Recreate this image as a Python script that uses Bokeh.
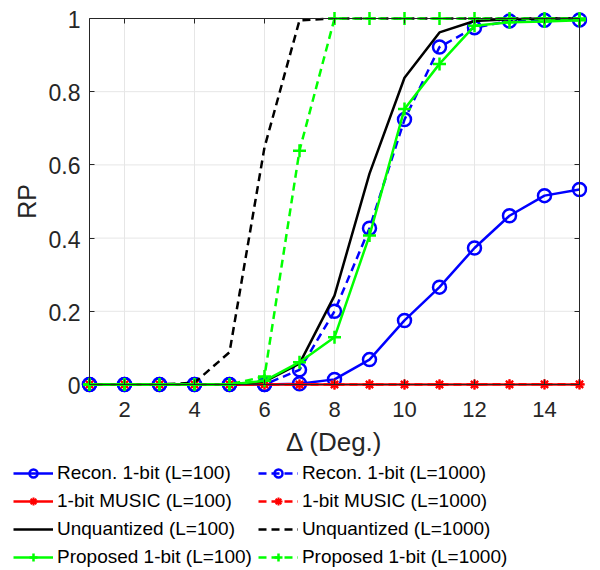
from bokeh.plotting import figure
from bokeh.models import Legend, LegendItem, LinearAxis, FixedTicker, Range1d
from bokeh.core.properties import value
from bokeh.embed import file_html
from bokeh.resources import INLINE

x = list(range(1, 16))
recon_100 = [0, 0, 0, 0, 0, 0, 0.002, 0.014, 0.068, 0.175, 0.266, 0.373, 0.461, 0.516, 0.533]
recon_1000 = [0, 0, 0, 0, 0, 0, 0.040, 0.200, 0.427, 0.724, 0.922, 0.975, 0.993, 0.995, 0.996]
music_100 = [0] * 15
music_1000 = [0, 0, 0, 0, 0, 0, 0, 0, 0, 0, 0, 0, 0.001, 0.001, 0.001]
unq_100 = [0, 0, 0, 0, 0, 0.008, 0.057, 0.243, 0.576, 0.838, 0.962, 0.993, 0.998, 1, 1]
unq_1000 = [0, 0, 0, 0.005, 0.088, 0.648, 0.995, 1, 1, 1, 1, 1, 1, 1, 1]
prop_100 = [0, 0, 0, 0, 0, 0.010, 0.061, 0.129, 0.407, 0.753, 0.876, 0.980, 0.990, 0.992, 0.995]
prop_1000 = [0, 0, 0, 0, 0, 0.022, 0.639, 1, 1, 1, 1, 1, 1, 1, 1]

x_ticks = [2, 4, 6, 8, 10, 12, 14]
x_tick_labels = ["2", "4", "6", "8", "10", "12", "14"]
y_ticks = [0, 0.2, 0.4, 0.6, 0.8, 1]
y_tick_labels = ["0", "0.2", "0.4", "0.6", "0.8", "1"]
x_title = "Δ (Deg.)"
y_title = "RP"

labels = [
    "Recon. 1-bit (L=100)", "Recon. 1-bit (L=1000)",
    "1-bit MUSIC (L=100)", "1-bit MUSIC (L=1000)",
    "Unquantized (L=100)", "Unquantized (L=1000)",
    "Proposed 1-bit (L=100)", "Proposed 1-bit (L=1000)",
]

FONT = "Liberation Sans"
TXT = "#262626"

x_lo, x_hi = x[0], x[-1]
y_lo, y_hi = y_ticks[0], y_ticks[-1]

# page geometry of the axes box (px)
W, H = 600, 570
BOX_L, BOX_R, BOX_T, BOX_B = 89, 579, 18, 384
FR_T, FR_R = 10, 587          # frame edges (frame spans the page otherwise)
sx = (BOX_R - BOX_L) / (x_hi - x_lo)
sy = (BOX_B - BOX_T) / (y_hi - y_lo)

p = figure(width=W, height=H, output_backend="svg", toolbar_location=None,
           x_axis_location=None, y_axis_location=None,
           x_range=Range1d(x_lo - BOX_L / sx, x_hi + (FR_R - BOX_R) / sx),
           y_range=Range1d(y_lo - (H - BOX_B) / sy, y_hi + (BOX_T - FR_T) / sy),
           min_border_left=0, min_border_bottom=0,
           min_border_top=FR_T, min_border_right=W - FR_R)
p.background_fill_color = "white"
p.border_fill_color = "white"
p.outline_line_color = None
p.grid.visible = False

# light grid inside the box
p.segment(x0=x_ticks, y0=[y_lo] * len(x_ticks), x1=x_ticks, y1=[y_hi] * len(x_ticks),
          line_color="#e6e6e6", line_width=1)
p.segment(x0=[x_lo] * len(y_ticks), y0=y_ticks, x1=[x_hi] * len(y_ticks), y1=y_ticks,
          line_color="#e6e6e6", line_width=1)


def box_axis(ticks, loc, bounds, tin, tout, side):
    ax = LinearAxis(ticker=FixedTicker(ticks=ticks),
                    major_label_overrides={t: "" for t in ticks},
                    major_label_text_font_size="1px", major_label_standoff=0,
                    fixed_location=loc, bounds=bounds,
                    axis_line_color=TXT, axis_line_width=1, major_tick_line_color=TXT,
                    major_tick_in=tin, major_tick_out=tout, minor_tick_line_color=None)
    p.add_layout(ax, side)


box_axis(x_ticks, y_hi, (x_lo, x_hi), 5, 0, "above")   # top edge
box_axis(x_ticks, y_lo, (x_lo, x_hi), 0, 5, "above")   # bottom edge, ticks up
box_axis(y_ticks, x_hi, (y_lo, y_hi), 5, 0, "right")   # right edge
box_axis(y_ticks, x_lo, (y_lo, y_hi), 0, 5, "right")   # left edge, ticks right

LW = 2.5
DASH = "8 5"
series = [
    (recon_100, "#0000ff", "solid", "circle"),
    (recon_1000, "#0000ff", DASH, "circle"),
    (music_100, "#ff0000", "solid", "asterisk"),
    (music_1000, "#ff0000", DASH, "asterisk"),
    (unq_100, "#000000", "solid", None),
    (unq_1000, "#000000", DASH, None),
    (prop_100, "#00ff00", "solid", "cross"),
    (prop_1000, "#00ff00", DASH, "cross"),
]

items = []
for (ys, col, dash, mk), lab in zip(series, labels):
    rs = [p.line(x, ys, line_color=col, line_width=LW, line_dash=dash)]
    if mk == "circle":
        rs.append(p.scatter(x, ys, marker="circle", size=13, fill_color=None,
                            line_color=col, line_width=2.5))
    elif mk == "asterisk":
        rs.append(p.scatter(x, ys, marker="asterisk", size=10, line_color=col, line_width=2))
    elif mk == "cross":
        rs.append(p.scatter(x, ys, marker="cross", size=13, line_color=col, line_width=2.5))
    items.append(LegendItem(label=lab, renderers=rs))

# tick labels and axis titles, placed from the tick arrays through the scales
p.text(x=[x_lo] * len(y_ticks), y=y_ticks, text=y_tick_labels, x_offset=-9, y_offset=1,
       text_align="right", text_baseline="middle", text_font=value(FONT),
       text_font_size=value("23px"), text_color=TXT)
p.text(x=x_ticks, y=[y_lo] * len(x_ticks), text=x_tick_labels, y_offset=25,
       text_align="center", text_baseline="middle", text_font=value(FONT),
       text_font_size=value("22px"), text_color=TXT)
p.text(x=[(x_lo + x_hi) / 2], y=[y_lo], text=[x_title], y_offset=57,
       text_align="center", text_baseline="middle", text_font=value(FONT),
       text_font_size=value("26px"), text_color=TXT)
p.text(x=[x_lo], y=[(y_lo + y_hi) / 2], text=[y_title], x_offset=-63, angle=90,
       angle_units="deg", text_align="center", text_baseline="middle",
       text_font=value(FONT), text_font_size=value("25px"), text_color=TXT)

# legend: Bokeh fills columns first
order = [0, 2, 4, 6, 1, 3, 5, 7]
legend = Legend(items=[items[i] for i in order], ncols=2, location=(13, 2),
                label_text_font=FONT, label_text_font_size="19px", label_text_color="#000000",
                glyph_width=40, glyph_height=20, label_standoff=4, label_height=22,
                spacing=6, padding=0, margin=0,
                border_line_color=None, background_fill_alpha=0)
p.add_layout(legend, "center")

open("out.html", "w").write(file_html(p, INLINE))
